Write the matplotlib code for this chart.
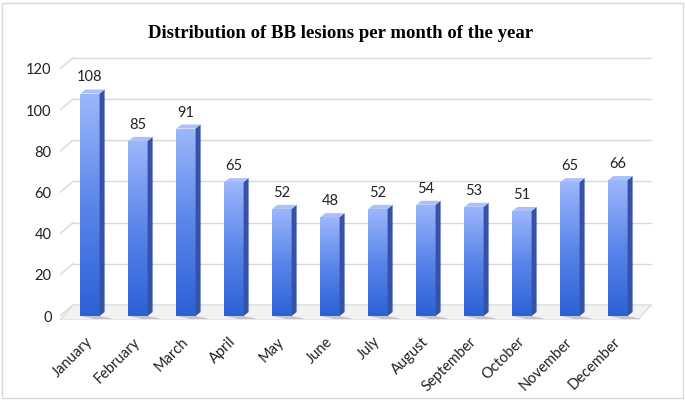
import matplotlib.pyplot as plt
import matplotlib.transforms as mtransforms
from matplotlib.patches import Polygon, Rectangle
from matplotlib.colors import LinearSegmentedColormap
import numpy as np

months = ['January', 'February', 'March', 'April', 'May', 'June', 'July',
          'August', 'September', 'October', 'November', 'December']
lesions = [108, 85, 91, 65, 52, 48, 52, 54, 53, 51, 65, 66]
yticks = [0, 20, 40, 60, 80, 100, 120]

plt.rcParams['font.family'] = ['Lato', 'DejaVu Sans']

fig = plt.figure(figsize=(6.85, 4.01), dpi=100)
W, H = 685, 401
# axes placed in pixel terms
px_unit = 2.06
x0_px, x1_px = 60, 655
y_bot = 316 + 2 * px_unit
y_top = 316 - 126 * px_unit
ax = fig.add_axes([x0_px / W, (H - y_bot) / H, (x1_px - x0_px) / W, (y_bot - y_top) / H])
xl, xr = (x0_px - 90) / 48, (x1_px - 90) / 48
ax.set_xlim(xl, xr)
ax.set_ylim(-2, 126)
for s in ax.spines.values():
    s.set_visible(False)

# figure border
fig.patches.append(Rectangle((2 / W, 3 / H), 681 / W, 395 / H, transform=fig.transFigure,
                             fill=False, edgecolor='#d9d9d9', lw=1.0))

# back wall offset
back = ax.transData + mtransforms.ScaledTranslation(13 / 100, 11 / 100, fig.dpi_scale_trans)
x_end = (638 - 90) / 48
for y in yticks:
    ax.plot([xl, x_end], [y, y], color='#d9d9d9', lw=1.0, transform=back, zorder=1)
    # diagonal on side wall
    p0 = ax.transData.transform((xl, y))
    p1 = back.transform((xl, y))
    ax.plot([p0[0], p1[0]], [p0[1], p1[1]], color='#d9d9d9', lw=1.0,
            transform=None, zorder=1)

# floor
fl = ax.transData.transform([(xl, -2), (x_end, -2)])
bl = back.transform([(x_end, 0), (xl, 0)])
floor = Polygon(np.vstack([fl, bl]), closed=True, transform=None,
                facecolor='#f2f2f2', edgecolor='#d9d9d9', lw=0.8, zorder=1.5)
ax.add_patch(floor)

front_cmap = LinearSegmentedColormap.from_list('f', ['#2c60d6', '#5a86ea', '#9db7fa'])
grad = np.linspace(0, 1, 256).reshape(-1, 1)

dx_px, dy_px = 5, 4
hw = 0.2
for i, v in enumerate(lesions):
    c = i
    # shadow on floor
    sh = ax.transData.transform([(c - hw, 0), (c + hw, 0)])
    shadow = Polygon([sh[0], sh[1], sh[1] + [14, -3], sh[0] + [14, -3]], closed=True,
                     transform=None, facecolor='#c4c4c4', edgecolor='none', zorder=1.8)
    ax.add_patch(shadow)
    # front face
    rect = Rectangle((c - hw, 0), 2 * hw, v, facecolor='none', edgecolor='none', zorder=3)
    ax.add_patch(rect)
    im = ax.imshow(grad, cmap=front_cmap, aspect='auto', origin='lower',
                   extent=(c - hw, c + hw, 0, v), zorder=3)
    im.set_clip_path(rect)
    # side face
    a = ax.transData.transform([(c + hw, 0), (c + hw, v)])
    side = Polygon([a[0], a[1], a[1] + [dx_px, dy_px], a[0] + [dx_px, dy_px]], closed=True,
                   transform=None, facecolor='#3552a8', edgecolor='none', zorder=3)
    ax.add_patch(side)
    # top face
    t = ax.transData.transform([(c - hw, v), (c + hw, v)])
    top = Polygon([t[0], t[1], t[1] + [dx_px, dy_px], t[0] + [dx_px, dy_px]], closed=True,
                  transform=None, facecolor='#a9c0fb', edgecolor='none', zorder=3)
    ax.add_patch(top)
    ax.annotate(str(v), (c, v), xytext=(0, 6.5), textcoords='offset points',
                ha='center', va='bottom', fontsize=10.5, color='#222222', zorder=4)

ax.set_xlim(xl, xr)
ax.set_ylim(-2, 126)
ax.set_yticks(yticks)
ax.set_xticks(range(len(months)))
ax.set_xticklabels(months, rotation=45, ha='right', va='center', rotation_mode='anchor')
ax.tick_params(axis='y', length=0, pad=6, labelsize=10.5, labelcolor='#222222')
ax.tick_params(axis='x', length=0, pad=14, labelsize=10.5, labelcolor='#222222')

fig.text(341 / W, 1 - 33 / H, 'Distribution of BB lesions per month of the year',
         ha='center', va='center', fontsize=13.5, fontweight='bold',
         family='Liberation Serif')

fig.savefig('out.png', dpi=100)
